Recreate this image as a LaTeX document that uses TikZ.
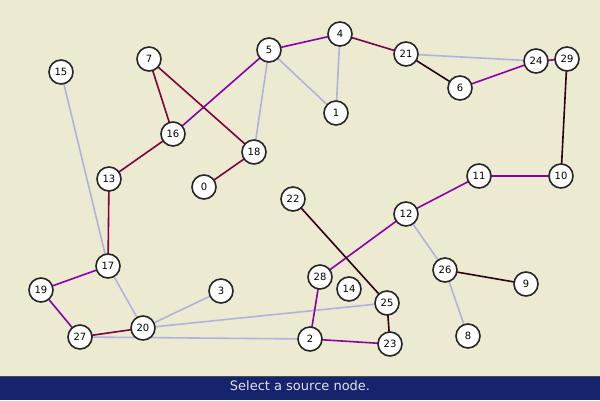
\documentclass[tikz,border=0pt]{standalone}
\usepackage{fontspec}
\setmainfont{DejaVu Sans}
\definecolor{bg}{RGB}{236,234,208}
\definecolor{ep}{RGB}{140,0,170}
\definecolor{er}{RGB}{128,0,64}
\definecolor{ek}{RGB}{45,0,20}
\definecolor{el}{RGB}{178,178,222}
\definecolor{bar}{RGB}{22,36,110}
\definecolor{bartext}{RGB}{225,225,235}
\pgfdeclarelayer{bglayer}
\pgfdeclarelayer{edgelayer}
\pgfsetlayers{bglayer,edgelayer,main}
\tikzset{
  vert/.style={circle,draw=black!85,fill=white,line width=1.6pt,minimum size=24pt,inner sep=0pt,font=\fontsize{10}{10}\selectfont},
  pe/.style={ep,line width=1.6pt},
  re/.style={er,line width=1.6pt},
  ke/.style={ek,line width=1.6pt},
  le/.style={el,line width=1.6pt}
}
\begin{document}
\begin{tikzpicture}[x=1pt,y=-1pt]
\begin{pgfonlayer}{bglayer}
\fill[bg] (0,0) rectangle (600,400);
\end{pgfonlayer}
\useasboundingbox (0,0) rectangle (600,400);
\fill[bar] (0,376) rectangle (600,400);
\draw[black!70,line width=1pt] (0,376.5) -- (600,376.5);
\node[text=bartext,font=\fontsize{13}{13}\selectfont] (status) at (300,385.5) {Select a source node.};
\node[vert] (n0) at (204,187) {0};
\node[vert] (n1) at (336,113) {1};
\node[vert] (n2) at (310,339) {2};
\node[vert] (n3) at (221,291) {3};
\node[vert] (n4) at (340,34) {4};
\node[vert] (n5) at (269,50) {5};
\node[vert] (n6) at (460,88) {6};
\node[vert] (n7) at (149,59) {7};
\node[vert] (n8) at (468,336) {8};
\node[vert] (n9) at (526,284) {9};
\node[vert] (n10) at (561,176) {10};
\node[vert] (n11) at (479,176) {11};
\node[vert] (n12) at (406,214) {12};
\node[vert] (n13) at (109,179) {13};
\node[vert] (n14) at (349,289) {14};
\node[vert] (n15) at (61,72) {15};
\node[vert] (n16) at (173,134) {16};
\node[vert] (n17) at (108,266) {17};
\node[vert] (n18) at (254,152) {18};
\node[vert] (n19) at (41,290) {19};
\node[vert] (n20) at (143,328) {20};
\node[vert] (n21) at (406,54) {21};
\node[vert] (n22) at (293,199) {22};
\node[vert] (n23) at (390,344) {23};
\node[vert] (n24) at (536,61) {24};
\node[vert] (n25) at (387,303) {25};
\node[vert] (n26) at (445,270) {26};
\node[vert] (n27) at (80,337) {27};
\node[vert] (n28) at (320,277) {28};
\node[vert] (n29) at (567,59) {29};
\begin{pgfonlayer}{edgelayer}
\draw[le] (n4.center) -- (n1.center);
\draw[le] (n5.center) -- (n1.center);
\draw[le] (n5.center) -- (n18.center);
\draw[le] (n21.center) -- (n24.center);
\draw[le] (n15.center) -- (n17.center);
\draw[le] (n17.center) -- (n20.center);
\draw[le] (n20.center) -- (n3.center);
\draw[le] (n20.center) -- (n25.center);
\draw[le] (n27.center) -- (n2.center);
\draw[le] (n12.center) -- (n26.center);
\draw[le] (n26.center) -- (n8.center);
\draw[pe] (n5.center) -- (n4.center);
\draw[pe] (n5.center) -- (n16.center);
\draw[pe] (n17.center) -- (n19.center);
\draw[pe] (n19.center) -- (n27.center);
\draw[pe] (n2.center) -- (n28.center);
\draw[pe] (n28.center) -- (n12.center);
\draw[pe] (n12.center) -- (n11.center);
\draw[pe] (n11.center) -- (n10.center);
\draw[pe] (n29.center) -- (n24.center);
\draw[pe] (n24.center) -- (n6.center);
\draw[pe] (n2.center) -- (n23.center);
\draw[re] (n4.center) -- (n21.center);
\draw[re] (n7.center) -- (n16.center);
\draw[re] (n7.center) -- (n18.center);
\draw[re] (n18.center) -- (n0.center);
\draw[re] (n16.center) -- (n13.center);
\draw[re] (n13.center) -- (n17.center);
\draw[re] (n27.center) -- (n20.center);
\draw[ke] (n10.center) -- (n29.center);
\draw[ke] (n6.center) -- (n21.center);
\draw[ke] (n22.center) -- (n25.center);
\draw[ke] (n25.center) -- (n23.center);
\draw[ke] (n26.center) -- (n9.center);
\end{pgfonlayer}
\end{tikzpicture}
\end{document}
